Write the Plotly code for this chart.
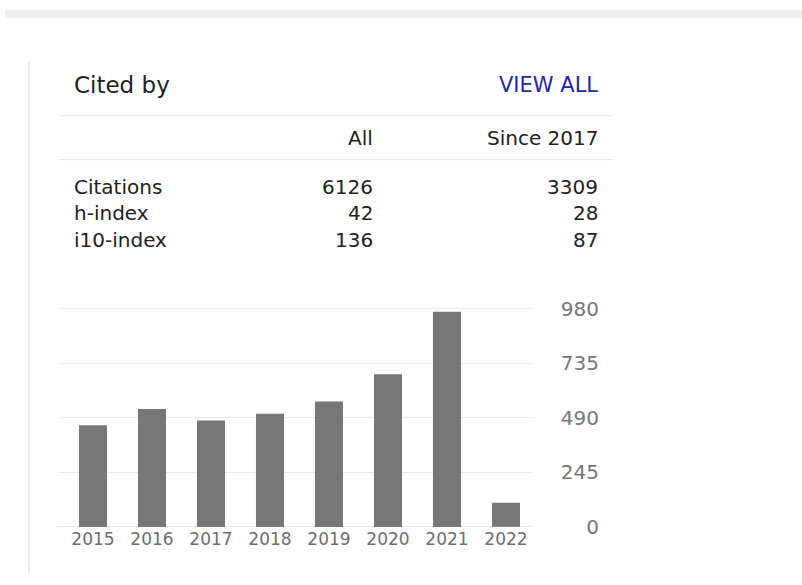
import plotly.graph_objects as go

# ---- data ----
years = ["2015", "2016", "2017", "2018", "2019", "2020", "2021", "2022"]
citations = [457, 530, 478, 508, 563, 686, 966, 108]
y_ticks = [0, 245, 490, 735, 980]
metrics = ["Citations", "h-index", "i10-index"]
all_values = [6126, 42, 136]
since_values = [3309, 28, 87]
col_headers = ["All", "Since 2017"]
title_text = "Cited by"
link_text = "VIEW ALL"

W, H = 802, 585
FONT = "DejaVu Sans"
VS, VOFF = 0.9635, 9.8   # vertical calibration of the capture


def px(x):
    return x / W


def py(y):
    return 1 - (y / VS - VOFF) / H


fig = go.Figure()
fig.add_trace(go.Bar(
    x=years, y=citations,
    marker=dict(color="#777777", line=dict(width=0)),
    hoverinfo="skip",
))

annotations = []


def txt(s, x, y, size, color="#222222", anchor="left"):
    annotations.append(dict(
        text=s, x=px(x), y=py(y), xref="paper", yref="paper",
        xanchor=anchor, yanchor="middle", showarrow=False,
        font=dict(family=FONT, size=size, color=color),
    ))


txt(title_text, 72, 85, 23)
txt(link_text, 600, 85, 21, color="#2323b0", anchor="right")
txt(col_headers[0], 375, 138, 20, anchor="right")
txt(col_headers[1], 600, 138, 20, anchor="right")
row_y = [187, 213.5, 240]
for m, a, s, yy in zip(metrics, all_values, since_values, row_y):
    txt(m, 72, yy, 20)
    txt(str(a), 375, yy, 20, anchor="right")
    txt(str(s), 600, yy, 20, anchor="right")

shapes = [
    dict(type="rect", xref="paper", yref="paper", x0=px(5), x1=1, y0=py(18.5), y1=min(1, py(10)),
         fillcolor="#f1f1f1", line=dict(width=0), layer="below"),
    dict(type="line", xref="paper", yref="paper", x0=px(29), x1=px(29), y0=py(62), y1=0,
         line=dict(color="#ebebeb", width=2)),
    dict(type="line", xref="paper", yref="paper", x0=px(59), x1=px(613), y0=py(116), y1=py(116),
         line=dict(color="#e6e6e6", width=1)),
    dict(type="line", xref="paper", yref="paper", x0=px(59), x1=px(613), y0=py(160), y1=py(160),
         line=dict(color="#e6e6e6", width=1)),
]

y_top = 995
y0_ref, y980_ref = 527, 309
top_ref = y980_ref - (y_top - 980) * (y0_ref - y980_ref) / 980

fig.update_layout(
    width=W, height=H,
    margin=dict(l=0, r=0, t=0, b=0),
    paper_bgcolor="white", plot_bgcolor="white",
    showlegend=False,
    hovermode=False,
    bargap=0.525,
    annotations=annotations,
    shapes=shapes,
    xaxis=dict(
        domain=[px(58), px(531)],
        type="category",
        range=[-0.593, 7.424],
        showgrid=False, zeroline=False, showline=False,
        ticks="",
        tickfont=dict(family=FONT, size=17, color="#6e6e6e"),
        ticklabelstandoff=0,
    ),
    yaxis=dict(
        domain=[py(y0_ref), py(top_ref)],
        range=[0, y_top],
        tickvals=y_ticks,
        ticktext=[str(v) for v in y_ticks],
        side="left", anchor="free", position=px(599),
        showgrid=True, gridcolor="#eaeaea", gridwidth=1,
        zeroline=True, zerolinecolor="#e6e6e6", zerolinewidth=1,
        showline=False, ticks="",
        tickfont=dict(family=FONT, size=20, color="#777777"),
        ticklabelstandoff=0,
    ),
)

fig.write_html(
    "out.html",
    config={"displayModeBar": False},
    post_script="document.body.style.margin='0';document.body.style.overflow='hidden';",
)
